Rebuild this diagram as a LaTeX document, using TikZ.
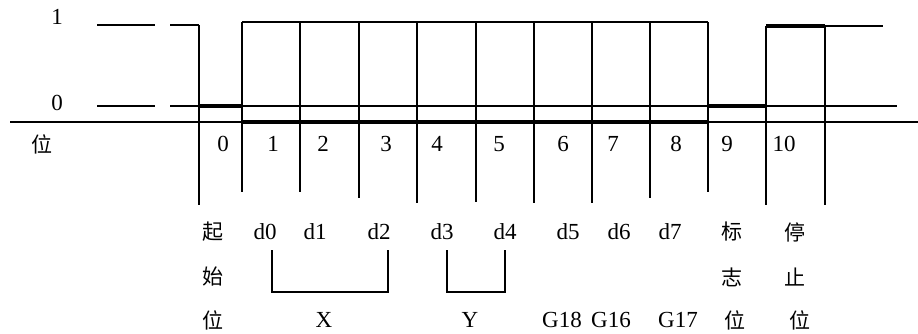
\documentclass[tikz,border=0pt]{standalone}
\usepackage{fontspec}
\setmainfont{Liberation Serif}
\newfontfamily\cjk{Noto Sans CJK SC}

\begin{document}
\begin{tikzpicture}[
  x=1pt, y=-1pt,
  font=\fontsize{23}{26}\selectfont,
  thin/.style={line width=1.5pt},
  heavy/.style={line width=3.5pt},
  lbl/.style={inner sep=0pt, anchor=center},
  zh/.style={lbl, font=\fontsize{21}{24}\selectfont\cjk}
]
\useasboundingbox (0,0) rectangle (918,333);

% --- Niveles y eje ---
\node[lbl] (uno)  at (57,17)  {1};
\node[lbl] (cero) at (57,103) {0};
\node[zh]  (pos)  at (42,144) {位};
\draw[thin] (97,25) -- (155,25);
\draw[thin] (170,25) -- (199,25);
\draw[thin] (97,106) -- (155,106);
\draw[thin] (170,106) -- (897,106);
\draw[thin] (10,122) -- (918,122);

% --- Forma de onda ---
\draw[heavy] (199,106) -- (242,106);
\draw[thin] (242,22) -- (708,22);
\draw[heavy] (242,122) -- (708,122);
\draw[heavy] (708,106) -- (766,106);
\draw[heavy] (766,26) -- (825,26);
\draw[thin] (825,26) -- (883,26);

% --- Limites de bit ---
\draw[thin] (199,25) -- (199,205);
\draw[thin] (242,22) -- (242,192);
\draw[thin] (300,22) -- (300,192);
\draw[thin] (359,22) -- (359,198);
\draw[thin] (417,22) -- (417,203);
\draw[thin] (476,22) -- (476,202);
\draw[thin] (534,22) -- (534,203);
\draw[thin] (592,22) -- (592,203);
\draw[thin] (650,22) -- (650,198);
\draw[thin] (708,22) -- (708,192);
\draw[thin] (766,26) -- (766,205);
\draw[thin] (825,26) -- (825,205);

% --- Numeros de bit ---
\node[lbl] (b0)  at (223,144) {0};
\node[lbl] (b1)  at (273,144) {1};
\node[lbl] (b2)  at (323,144) {2};
\node[lbl] (b3)  at (386,144) {3};
\node[lbl] (b4)  at (437,144) {4};
\node[lbl] (b5)  at (499,144) {5};
\node[lbl] (b6)  at (563,144) {6};
\node[lbl] (b7)  at (613,144) {7};
\node[lbl] (b8)  at (676,144) {8};
\node[lbl] (b9)  at (727,144) {9};
\node[lbl] (b10) at (784,144) {10};

% --- Significado de cada bit ---
\node[zh]  (qi)   at (213,232) {起};
\node[zh]  (shi)  at (213,277) {始};
\node[zh]  (wei)  at (213,320) {位};
\node[lbl] (d0) at (265,232) {d0};
\node[lbl] (d1) at (315,232) {d1};
\node[lbl] (d2) at (379,232) {d2};
\node[lbl] (d3) at (442,232) {d3};
\node[lbl] (d4) at (505,232) {d4};
\node[lbl] (d5) at (568,232) {d5};
\node[lbl] (d6) at (619,232) {d6};
\node[lbl] (d7) at (670,232) {d7};
\node[zh]  (biao) at (732,232) {标};
\node[zh]  (zhi)  at (732,277) {志};
\node[zh]  (wei2) at (735,320) {位};
\node[zh]  (ting) at (795,232) {停};
\node[zh]  (zhi2) at (795,277) {止};
\node[zh]  (wei3) at (800,320) {位};

% --- Agrupacion X, Y y puertos ---
\draw[thin] (272,250) -- (272,292) -- (388,292) -- (388,250);
\draw[thin] (447,250) -- (447,292) -- (505,292) -- (505,250);
\node[lbl] (ejex) at (324,320) {X};
\node[lbl] (ejey) at (470,320) {Y};
\node[lbl] (g18)  at (562,320) {G18};
\node[lbl] (g16)  at (611,320) {G16};
\node[lbl] (g17)  at (678,320) {G17};

\end{tikzpicture}
\end{document}
